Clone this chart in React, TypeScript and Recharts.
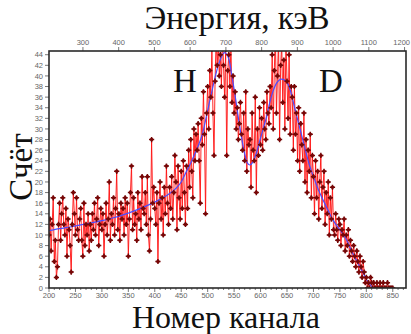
import { ComposedChart, Line, XAxis, YAxis } from "recharts";

// counts per channel, channels 200..850 step 2 (blocks of 20 channels)
const counts: number[][] = [
  [10, 13, 7, 12, 17, 5, 9, 2, 4, 12],
  [16, 9, 14, 17, 12, 10, 15, 6, 13, 11],
  [8, 3, 12, 18, 14, 10, 17, 11, 9, 13],
  [15, 9, 6, 16, 8, 12, 10, 14, 7, 12],
  [9, 14, 11, 16, 10, 13, 17, 8, 12, 15],
  [11, 14, 6, 12, 16, 10, 13, 20, 9, 14],
  [12, 17, 10, 15, 22, 11, 14, 9, 16, 13],
  [15, 10, 17, 12, 16, 6, 13, 18, 23, 11],
  [17, 12, 14, 9, 18, 13, 16, 11, 21, 15],
  [14, 18, 12, 21, 10, 7, 13, 28, 16, 19],
  [15, 12, 18, 5, 16, 20, 13, 17, 10, 19],
  [14, 23, 16, 12, 19, 15, 21, 13, 18, 25],
  [20, 11, 23, 17, 13, 22, 15, 24, 18, 12],
  [23, 15, 26, 19, 28, 22, 17, 30, 24, 29],
  [26, 31, 24, 16, 32, 27, 37, 29, 14, 33],
  [38, 30, 41, 36, 45, 33, 25, 39, 47, 42],
  [46, 40, 44, 38, 48, 42, 36, 45, 25, 41],
  [44, 38, 46, 35, 40, 33, 37, 30, 34, 28],
  [31, 35, 29, 26, 33, 24, 37, 22, 30, 27],
  [28, 19, 33, 26, 24, 36, 18, 30, 25, 34],
  [27, 32, 26, 35, 30, 28, 37, 33, 31, 38],
  [34, 44, 30, 41, 48, 33, 40, 47, 28, 42],
  [46, 35, 43, 30, 47, 39, 32, 44, 29, 38],
  [36, 26, 38, 29, 33, 24, 34, 22, 31, 27],
  [24, 33, 20, 28, 18, 26, 22, 29, 17, 25],
  [21, 14, 24, 17, 22, 13, 20, 25, 15, 19],
  [22, 12, 18, 14, 20, 10, 17, 13, 19, 11],
  [10, 14, 11, 9, 13, 12, 8, 11, 10, 13],
  [7, 10, 8, 11, 6, 9, 7, 5, 8, 6],
  [4, 7, 5, 3, 6, 4, 2, 5, 3, 1],
  [2, 0, 1, 0, 2, 1, 0, 1, 0, 0],
  [1, 0, 0, 1, 0, 0, 1, 0, 0, 0],
  [1, 0, 0, 0, 0, 0],
];

// fitted curve (two peaks)
const fitChannels = [
  200, 220, 240, 260, 280, 300, 320, 340, 360, 380, 400, 420, 440, 450, 460,
  470, 480, 490, 500, 510, 520, 532, 540, 545, 550, 555, 560, 565, 570, 575,
  580, 585, 590, 600, 610, 620, 630, 640, 648, 656, 662, 670, 680, 693, 700,
  712, 725, 737, 750, 763, 772, 782, 792, 801, 810, 815,
];
const fitValues = [
  10.8, 11.2, 11.5, 11.9, 12.3, 12.7, 13.2, 13.8, 14.5, 15.3, 16.2, 17.3, 18.8,
  20.0, 22.0, 24.0, 26.3, 29.0, 33.5, 38.0, 42.0, 44.4, 43.2, 40.5, 37.5, 34.2,
  30.8, 27.9, 25.3, 23.6, 23.2, 23.7, 24.8, 28.3, 31.8, 36.0, 38.6, 39.4, 39.0,
  37.4, 35.0, 31.8, 27.9, 23.0, 21.0, 17.9, 15.2, 12.8, 11.0, 9.0, 7.0, 5.1,
  3.2, 1.5, 0.3, 0,
];

const channelTicks = [200, 250, 300, 350, 400, 450, 500, 550, 600, 650, 700, 750, 800, 850];
const energyTicks = [300, 400, 500, 600, 700, 800, 900, 1000, 1100, 1200];
const countTicks = [0, 2, 4, 6, 8, 10, 12, 14, 16, 18, 20, 22, 24, 26, 28, 30, 32, 34, 36, 38, 40, 42, 44];

const spectrum = counts.flat().map((v, i) => ({ ch: 200 + i * 2, n: v }));
const fit = fitChannels.map((c, i) => ({ ch: c, f: fitValues[i] }));
// empty series, only so the energy axis gets drawn
const energyAnchor = energyTicks.map((e) => ({ e, z: null }));
const minorTicks: number[] = [];
for (let c = 200; c <= 870; c += 10) minorTicks.push(c);

const TICK_FONT = { fontFamily: "Liberation Sans, Arial, sans-serif", fontSize: 7.5, fill: "#666" };
const SERIF = "Liberation Serif, Times New Roman, serif";

const BottomTick = (props: any) => {
  const { x, y, payload } = props;
  const major = channelTicks.includes(payload.value);
  return (
    <g>
      <line x1={x} x2={x} y1={y} y2={y + (major ? 4 : 2)} stroke="#555" strokeWidth={0.8} />
      {major && (
        <text x={x} y={y + 7} dy="0.35em" textAnchor="middle" {...TICK_FONT}>
          {payload.value}
        </text>
      )}
    </g>
  );
};

const TopTick = (props: any) => {
  const { x, y, payload } = props;
  // last label sits against the right edge of the picture
  const atEdge = x > 400;
  return (
    <g>
      <line x1={x} x2={x} y1={y} y2={y - 4} stroke="#555" strokeWidth={0.8} />
      <text
        x={atEdge ? 410 : x}
        y={y - 8.5}
        dy="0.35em"
        textAnchor={atEdge ? "end" : "middle"}
        {...TICK_FONT}
      >
        {payload.value}
      </text>
    </g>
  );
};

const LeftTick = (props: any) => {
  const { x, y, payload } = props;
  return (
    <g>
      <line x1={x} x2={x - 4} y1={y} y2={y} stroke="#555" strokeWidth={0.8} />
      <text x={x - 6} y={y} dy="0.35em" textAnchor="end" {...TICK_FONT}>
        {payload.value}
      </text>
    </g>
  );
};

const Marker = (props: any) => {
  const { cx, cy, index } = props;
  if (cx == null || cy == null) return <g key={index} />;
  return (
    <g key={index}>
      <path d={`M${cx - 2.6},${cy}h5.2M${cx},${cy - 2.6}v5.2`} stroke="#760606" strokeWidth={1.5} />
      <circle cx={cx} cy={cy} r={1.8} fill="#760606" />
    </g>
  );
};

export default function App() {
  return (
    <div style={{ position: "absolute", left: 0, top: 0, width: 411, height: 334, background: "#fff" }}>
      <ComposedChart width={411} height={334} margin={{ top: 36, right: 5, bottom: 26, left: 0 }}>
        <XAxis
          xAxisId="ch"
          dataKey="ch"
          type="number"
          domain={[200, 875]}
          allowDataOverflow
          ticks={minorTicks}
          interval={0}
          height={20}
          tickSize={0}
          tickMargin={0}
          tickLine={false}
          axisLine={false}
          tick={<BottomTick />}
        />
        <XAxis
          xAxisId="kev"
          dataKey="e"
          orientation="top"
          type="number"
          domain={[205, 1204]}
          allowDataOverflow
          ticks={energyTicks}
          interval={0}
          height={15}
          tickSize={0}
          tickMargin={0}
          tickLine={false}
          axisLine={false}
          tick={<TopTick />}
        />
        <YAxis
          type="number"
          domain={[0, 44.7]}
          allowDataOverflow
          ticks={countTicks}
          interval={0}
          width={49}
          tickSize={0}
          tickMargin={0}
          tickLine={false}
          axisLine={false}
          tick={<LeftTick />}
        />
        <Line
          xAxisId="kev"
          data={energyAnchor}
          dataKey="z"
          stroke="none"
          dot={false}
          isAnimationActive={false}
        />
        <Line
          xAxisId="ch"
          data={spectrum}
          dataKey="n"
          type="linear"
          stroke="#ff1010"
          strokeOpacity={0.9}
          strokeWidth={1}
          dot={(p: any) => <Marker key={p.index} cx={p.cx} cy={p.cy} index={p.index} />}
          isAnimationActive={false}
        />
        <Line
          xAxisId="ch"
          data={fit}
          dataKey="f"
          type="monotone"
          stroke="#4b4bff"
          strokeWidth={1.2}
          dot={false}
          isAnimationActive={false}
        />
      </ComposedChart>
      <svg width={411} height={334} style={{ position: "absolute", left: 0, top: 0, pointerEvents: "none" }}>
        <rect x={49} y={51} width={357} height={237} fill="none" stroke="#2a2a2a" strokeWidth={1.6} />
        <text x={237} y={29} textAnchor="middle" fontFamily={SERIF} fontSize={33} fill="#111">
          Энергия, кэВ
        </text>
        <text x={226} y={328} textAnchor="middle" fontFamily={SERIF} fontSize={32} fill="#111">
          Номер канала
        </text>
        <text transform="translate(32,167) rotate(-90)" textAnchor="middle" fontFamily={SERIF} fontSize={33} fill="#111">
          Счёт
        </text>
        <text x={185} y={92} textAnchor="middle" fontFamily={SERIF} fontSize={33} fill="#111">
          H
        </text>
        <text x={331} y={92} textAnchor="middle" fontFamily={SERIF} fontSize={33} fill="#111">
          D
        </text>
      </svg>
    </div>
  );
}
